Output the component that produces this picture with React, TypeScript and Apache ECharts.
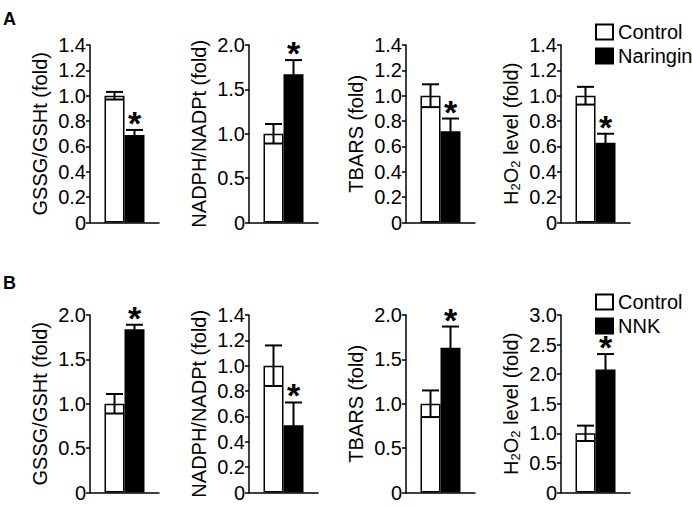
import React, { useEffect, useRef } from 'react';
import * as echarts from 'echarts';

// ---- data ----
const groupsA = ['Control', 'Naringin'];
const groupsB = ['Control', 'NNK'];
const axisNames = [
  'GSSG/GSHt (fold)',
  'NADPH/NADPt (fold)',
  'TBARS (fold)',
  'H{sub|2}O{sub|2} level (fold)',
];
const controlA = [1.0, 1.0, 1.0, 1.0];
const controlErrA = [0.03, 0.11, 0.09, 0.07];
const naringinA = [0.69, 1.67, 0.72, 0.63];
const naringinErrA = [0.04, 0.16, 0.1, 0.07];
const controlB = [1.0, 1.0, 1.0, 1.0];
const controlErrB = [0.11, 0.16, 0.15, 0.13];
const nnkB = [1.84, 0.53, 1.63, 2.08];
const nnkErrB = [0.05, 0.18, 0.24, 0.26];
const yMaxA = [1.4, 2.0, 1.4, 1.4];
const yStepA = [0.2, 0.5, 0.2, 0.2];
const yMaxB = [2.0, 1.4, 2.0, 3.0];
const yStepB = [0.5, 0.2, 0.5, 0.5];
const significantA = [true, true, true, true];
const significantB = [true, true, true, true];

// ---- layout ----
const FONT = 'Liberation Sans, Arial, Helvetica, sans-serif';
const GRID_LEFTS = [90, 249, 406, 561];
const GRID_W = 69;
const GRID_H = 177.5;
const ROW_TOPS = [45, 315];
const BAR_W = 20;
const CAP_W = 17;
const FS = 20;

export default function App() {
  const ref = useRef<HTMLDivElement>(null);

  useEffect(() => {
    if (!ref.current) return;
    const chart = echarts.init(ref.current, null, { renderer: 'svg' });

    const rows = [
      { groups: groupsA, ctrl: controlA, ctrlErr: controlErrA, trt: naringinA, trtErr: naringinErrA, max: yMaxA, step: yStepA, sig: significantA },
      { groups: groupsB, ctrl: controlB, ctrlErr: controlErrB, trt: nnkB, trtErr: nnkErrB, max: yMaxB, step: yStepB, sig: significantB },
    ];

    const grids: any[] = [];
    const xAxes: any[] = [];
    const yAxes: any[] = [];
    const series: any[] = [];

    rows.forEach((row, r) => {
      for (let c = 0; c < 4; c++) {
        const idx = r * 4 + c;
        grids.push({ left: GRID_LEFTS[c], top: ROW_TOPS[r], width: GRID_W, height: GRID_H, containLabel: false });
        xAxes.push({
          gridIndex: idx,
          type: 'category',
          data: [''],
          axisLine: { show: true, lineStyle: { color: '#000', width: 1.5 } },
          axisTick: { show: false },
          axisLabel: { show: false },
        });
        yAxes.push({
          gridIndex: idx,
          type: 'value',
          min: 0,
          max: row.max[c],
          interval: row.step[c],
          splitLine: { show: false },
          axisLine: { show: true, lineStyle: { color: '#000', width: 1.5 } },
          axisTick: { show: true, length: 4, lineStyle: { color: '#000', width: 1.5 } },
          axisLabel: {
            fontSize: FS,
            color: '#000',
            margin: 4,
            fontFamily: FONT,
            formatter: (v: number) => (v === 0 ? '0' : v.toFixed(1)),
          },
          name: axisNames[c],
          nameLocation: 'middle',
          nameGap: 39,
          nameTextStyle: {
            fontSize: FS,
            color: '#000',
            fontFamily: FONT,
            lineHeight: 23,
            rich: {
              sub: { fontSize: 13, verticalAlign: 'bottom', fontFamily: FONT, color: '#000', lineHeight: 23 },
            },
          },
        });
        series.push({
          type: 'bar',
          name: row.groups[0],
          xAxisIndex: idx,
          yAxisIndex: idx,
          data: [row.ctrl[c]],
          barWidth: BAR_W,
          barGap: '0%',
          itemStyle: { color: '#fff', borderColor: '#000', borderWidth: 1.5 },
        });
        series.push({
          type: 'bar',
          name: row.groups[1],
          xAxisIndex: idx,
          yAxisIndex: idx,
          data: [row.trt[c]],
          barWidth: BAR_W,
          barGap: '0%',
          itemStyle: { color: '#000', borderColor: '#000', borderWidth: 1.5 },
        });
        series.push({
          type: 'custom',
          xAxisIndex: idx,
          yAxisIndex: idx,
          z: 5,
          encode: { x: 0, y: 1 },
          data: [
            [0, row.ctrl[c], row.ctrlErr[c], 0, 0],
            [0, row.trt[c], row.trtErr[c], 1, row.sig[c] ? 1 : 0],
          ],
          renderItem: (params: any, api: any) => {
            const m = api.value(1);
            const e = api.value(2);
            const side = api.value(3);
            const sig = api.value(4);
            const center = api.coord([0, m])[0];
            const cx = center + (side === 0 ? -BAR_W / 2 : BAR_W / 2);
            const yTop = api.coord([0, m + e])[1];
            const yBot = api.coord([0, m - e])[1];
            const ls = { stroke: '#000', lineWidth: 2 };
            const children: any[] = [
              { type: 'line', shape: { x1: cx, y1: yTop, x2: cx, y2: yBot }, style: ls },
              { type: 'line', shape: { x1: cx - CAP_W / 2, y1: yTop, x2: cx + CAP_W / 2, y2: yTop }, style: ls },
              { type: 'line', shape: { x1: cx - CAP_W / 2, y1: yBot, x2: cx + CAP_W / 2, y2: yBot }, style: ls },
            ];
            if (sig) {
              children.push({
                type: 'text',
                x: cx,
                y: yTop - 7,
                style: {
                  text: '*',
                  fontSize: 34,
                  fontWeight: 'bold',
                  fontFamily: FONT,
                  fill: '#000',
                  align: 'center',
                  verticalAlign: 'middle',
                },
              });
            }
            return { type: 'group', children };
          },
        });
      }
    });

    const legendCommon = {
      orient: 'vertical',
      left: 595,
      itemWidth: 17,
      itemHeight: 15,
      itemGap: 4,
      padding: 0,
      selectedMode: false,
      icon: 'rect',
      textStyle: { fontSize: FS, color: '#000', fontFamily: FONT },
    };

    chart.setOption({
      animation: false,
      backgroundColor: '#fff',
      textStyle: { fontFamily: FONT },
      grid: grids,
      xAxis: xAxes,
      yAxis: yAxes,
      series,
      legend: [
        { ...legendCommon, top: 22, data: groupsA },
        { ...legendCommon, top: 292, data: groupsB },
      ],
      graphic: [
        { type: 'text', left: 3, top: 10, style: { text: 'A', fontSize: 18, fontWeight: 'bold', fill: '#000', fontFamily: FONT } },
        { type: 'text', left: 3, top: 274, style: { text: 'B', fontSize: 18, fontWeight: 'bold', fill: '#000', fontFamily: FONT } },
      ],
    });

    return () => chart.dispose();
  }, []);

  return <div ref={ref} style={{ position: 'absolute', left: 0, top: 0, width: 692, height: 506 }} />;
}
